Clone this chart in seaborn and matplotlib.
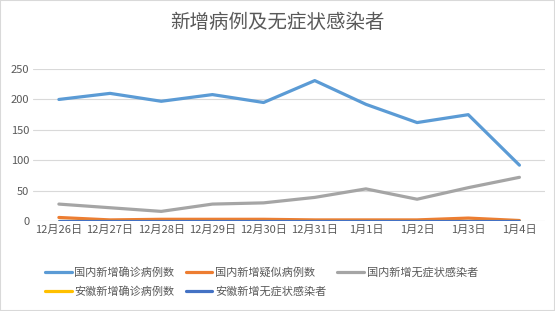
#!/usr/bin/env python3
import matplotlib
matplotlib.use("Agg")
import matplotlib.pyplot as plt
import pandas as pd
import seaborn as sns
from matplotlib.patches import Rectangle

dates = ["12月26日", "12月27日", "12月28日", "12月29日", "12月30日",
         "12月31日", "1月1日", "1月2日", "1月3日", "1月4日"]
series_names = ["国内新增确诊病例数", "国内新增疑似病例数", "国内新增无症状感染者",
                "安徽新增确诊病例数", "安徽新增无症状感染者"]
cn_confirmed = [200, 210, 197, 208, 195, 231, 192, 162, 175, 92]
cn_suspected = [6, 2, 3, 3, 3, 2, 2, 2, 5, 1]
cn_asymptomatic = [28, 22, 16, 28, 30, 39, 53, 36, 55, 72]
ah_confirmed = [0, 0, 0, 0, 0, 0, 0, 0, 0, 0]
ah_asymptomatic = [1, 1, 1, 1, 1, 1, 1, 1, 1, 1]
colors = ["#5B9BD5", "#ED7D31", "#A5A5A5", "#FFC000", "#4472C4"]


def main() -> None:
    values = [cn_confirmed, cn_suspected, cn_asymptomatic, ah_confirmed, ah_asymptomatic]
    rows = []
    for name, vals in zip(series_names, values):
        for i, v in enumerate(vals):
            rows.append({"pos": i, "series": name, "value": v})
    df = pd.DataFrame(rows)

    sns.set_theme(style="white")
    plt.rcParams["font.family"] = ["Noto Sans CJK SC", "DejaVu Sans"]

    fig = plt.figure(figsize=(5.55, 3.11), dpi=100)
    ax = fig.add_axes([0.06, 0.289, 0.922, 0.489])
    sns.lineplot(data=df, x="pos", y="value", hue="series", hue_order=series_names,
                 palette=dict(zip(series_names, colors)), linewidth=2.3, ax=ax,
                 legend=True)

    ax.set_xlim(-0.5, len(dates) - 0.5)
    ax.set_ylim(0, 250)
    ax.set_yticks([0, 50, 100, 150, 200, 250])
    ax.set_xticks(range(len(dates)))
    ax.set_xticklabels(dates)
    ax.tick_params(axis="both", length=0, labelsize=8, colors="#595959", pad=3)
    ax.set_xlabel("")
    ax.set_ylabel("")
    ax.yaxis.grid(True, color="#D9D9D9", linewidth=0.8)
    ax.set_axisbelow(True)
    for sp in ax.spines.values():
        sp.set_visible(False)

    handles, labels = ax.get_legend_handles_labels()
    order = [0, 3, 1, 4, 2]
    ax.legend([handles[i] for i in order], [labels[i] for i in order],
              ncol=3, frameon=False, fontsize=8, labelcolor="#595959",
              handlelength=2.4, handletextpad=0.25, columnspacing=1.0,
              labelspacing=0.8, loc="center left", borderpad=0, borderaxespad=0,
              bbox_to_anchor=(45 / 555, 1 - 282 / 311),
              bbox_transform=fig.transFigure)

    fig.text(0.5, 1 - 22 / 311, "新增病例及无症状感染者", ha="center", va="center",
             fontsize=14, color="#595959")
    fig.patches.append(Rectangle((0, 0), 1, 1, transform=fig.transFigure,
                                 fill=False, edgecolor="#D9D9D9", linewidth=1.5))
    fig.savefig("out.png", dpi=100)
    plt.close(fig)


if __name__ == "__main__":
    main()
